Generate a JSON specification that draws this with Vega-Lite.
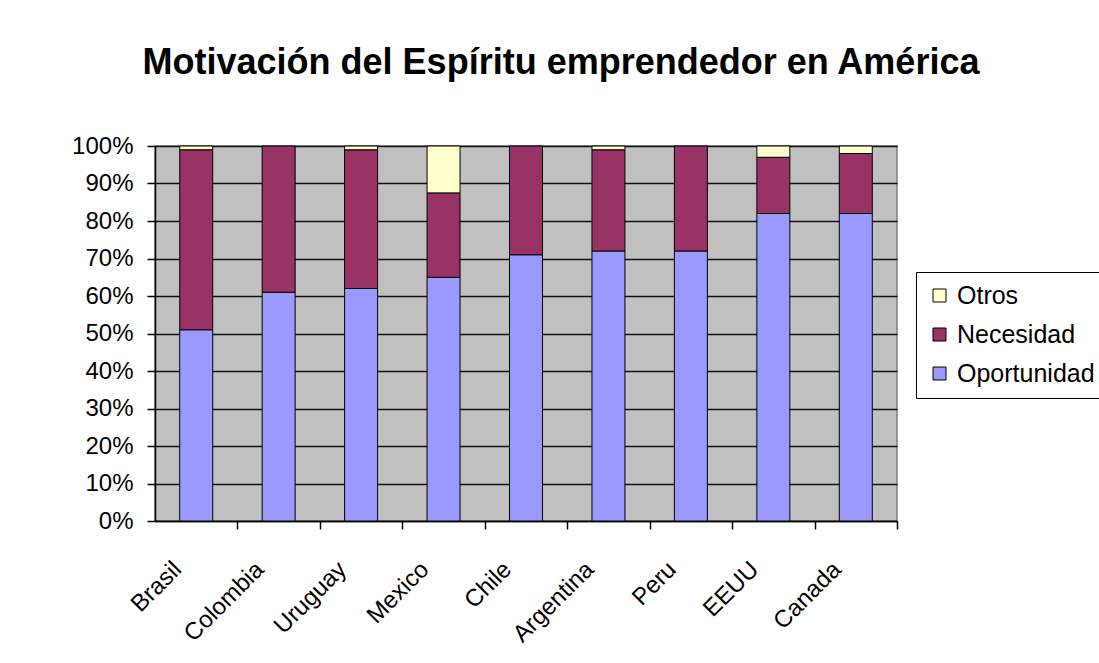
{
  "$schema": "https://vega.github.io/schema/vega-lite/v6.json",
  "width": 742,
  "height": 375,
  "autosize": {"type": "none"},
  "padding": {"left": 155, "top": 146, "right": 202, "bottom": 142},
  "background": "white",
  "title": {
    "text": "Motivación del Espíritu emprendedor en América",
    "font": "Liberation Sans",
    "fontSize": 36,
    "fontWeight": "bold",
    "color": "black",
    "anchor": "middle",
    "dx": 35,
    "offset": 52
  },
  "data": {
    "values": [
      {"pais": "Brasil", "serie": "Oportunidad", "orden": 1, "valor": 51},
      {"pais": "Brasil", "serie": "Necesidad", "orden": 2, "valor": 48},
      {"pais": "Brasil", "serie": "Otros", "orden": 3, "valor": 1},
      {"pais": "Colombia", "serie": "Oportunidad", "orden": 1, "valor": 61},
      {"pais": "Colombia", "serie": "Necesidad", "orden": 2, "valor": 39},
      {"pais": "Uruguay", "serie": "Oportunidad", "orden": 1, "valor": 62},
      {"pais": "Uruguay", "serie": "Necesidad", "orden": 2, "valor": 37},
      {"pais": "Uruguay", "serie": "Otros", "orden": 3, "valor": 1},
      {"pais": "Mexico", "serie": "Oportunidad", "orden": 1, "valor": 65},
      {"pais": "Mexico", "serie": "Necesidad", "orden": 2, "valor": 22.5},
      {"pais": "Mexico", "serie": "Otros", "orden": 3, "valor": 12.5},
      {"pais": "Chile", "serie": "Oportunidad", "orden": 1, "valor": 71},
      {"pais": "Chile", "serie": "Necesidad", "orden": 2, "valor": 29},
      {"pais": "Argentina", "serie": "Oportunidad", "orden": 1, "valor": 72},
      {"pais": "Argentina", "serie": "Necesidad", "orden": 2, "valor": 27},
      {"pais": "Argentina", "serie": "Otros", "orden": 3, "valor": 1},
      {"pais": "Peru", "serie": "Oportunidad", "orden": 1, "valor": 72},
      {"pais": "Peru", "serie": "Necesidad", "orden": 2, "valor": 28},
      {"pais": "EEUU", "serie": "Oportunidad", "orden": 1, "valor": 82},
      {"pais": "EEUU", "serie": "Necesidad", "orden": 2, "valor": 15},
      {"pais": "EEUU", "serie": "Otros", "orden": 3, "valor": 3},
      {"pais": "Canada", "serie": "Oportunidad", "orden": 1, "valor": 82},
      {"pais": "Canada", "serie": "Necesidad", "orden": 2, "valor": 16},
      {"pais": "Canada", "serie": "Otros", "orden": 3, "valor": 2}
    ]
  },
  "mark": {"type": "bar", "stroke": "black", "strokeWidth": 1},
  "encoding": {
    "x": {
      "field": "pais",
      "type": "nominal",
      "sort": null,
      "scale": {"paddingInner": 0.6, "paddingOuter": 0.3},
      "axis": {
        "title": null,
        "labelAngle": -45,
        "labelFont": "Liberation Sans",
        "labelFontSize": 24,
        "labelColor": "black",
        "labelPadding": 28,
        "labelOffset": -52,
        "ticks": true,
        "bandPosition": 1,
        "tickOffset": 24.7,
        "tickColor": "black",
        "tickWidth": 1.5,
        "tickSize": 8,
        "domainColor": "black",
        "domainWidth": 1.5,
        "grid": false
      }
    },
    "y": {
      "field": "valor",
      "type": "quantitative",
      "stack": "normalize",
      "scale": {"domain": [0, 1]},
      "axis": {
        "title": null,
        "format": ".0%",
        "values": [0, 0.1, 0.2, 0.3, 0.4, 0.5, 0.6, 0.7, 0.8, 0.9, 1],
        "labelFont": "Liberation Sans",
        "labelFontSize": 24,
        "labelColor": "black",
        "labelPadding": 14,
        "tickColor": "black",
        "tickWidth": 1.5,
        "tickSize": 8,
        "domainColor": "black",
        "domainWidth": 1.5,
        "grid": true,
        "gridColor": "#111111",
        "gridWidth": 1.5
      }
    },
    "order": {"field": "orden", "type": "quantitative", "sort": "ascending"},
    "color": {
      "field": "serie",
      "type": "nominal",
      "scale": {
        "domain": ["Otros", "Necesidad", "Oportunidad"],
        "range": ["#FFFFCC", "#993366", "#9999FF"]
      },
      "legend": {
        "title": null,
        "orient": "none",
        "legendX": 761,
        "legendY": 126,
        "symbolType": "square",
        "symbolSize": 169,
        "symbolStrokeColor": "black",
        "symbolStrokeWidth": 1,
        "symbolOpacity": 1,
        "labelFont": "Liberation Sans",
        "labelFontSize": 25,
        "labelColor": "black",
        "labelOffset": 5,
        "rowPadding": 13,
        "padding": 11,
        "strokeColor": "black",
        "fillColor": "white"
      }
    }
  },
  "config": {
    "view": {"fill": "#C0C0C0", "stroke": "#808080", "strokeWidth": 1.5}
  }
}
